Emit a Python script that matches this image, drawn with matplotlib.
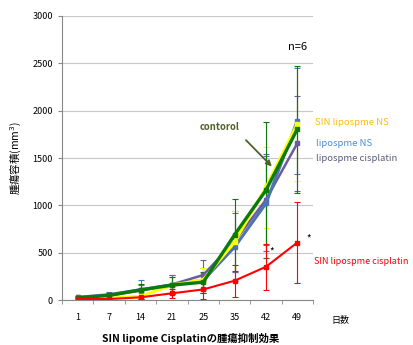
import numpy as np
import matplotlib
matplotlib.use("Agg")
import matplotlib.pyplot as plt

plt.rcParams['font.family'] = ['Noto Sans CJK JP', 'DejaVu Sans']

days = ['1', '7', '14', '21', '25', '35', '42', '49']

# mean tumour volume per group
control = [25, 50, 108, 158, 190, 690, 1160, 1805]
sin_ns = [15, 20, 40, 158, 215, 615, 1190, 1860]
lipo_ns = [30, 58, 110, 162, 210, 560, 1020, 1893]
lipo_cis = [28, 50, 100, 165, 265, 620, 1060, 1655]
sin_cis = [12, 12, 30, 72, 113, 205, 352, 608]

# error (sd)
control_err = [10, 20, 60, 90, 110, 380, 720, 670]
sin_ns_err = [8, 15, 40, 90, 120, 330, 430, 600]
lipo_ns_err = [12, 30, 100, 100, 130, 360, 500, 560]
lipo_cis_err = [10, 25, 60, 105, 160, 320, 480, 500]
sin_cis_err = [8, 10, 20, 50, 100, 170, 240, 430]

x = np.arange(len(days))

fig = plt.figure(figsize=(4.14, 3.45), dpi=100)
ax = fig.add_axes([0.15, 0.13, 0.606, 0.824])

series = [
    (lipo_cis, lipo_cis_err, '#6b5b9e', 1.8),
    (lipo_ns, lipo_ns_err, '#4f72b3', 2.2),
    (sin_ns, sin_ns_err, '#ffff00', 2.2),
    (control, control_err, '#0a7a0a', 2.4),
    (sin_cis, sin_cis_err, '#ff0000', 1.5),
]
for vals, err, col, lw in series:
    ax.errorbar(x, vals, yerr=err, color=col, lw=lw, marker='s', ms=2.5,
                elinewidth=0.8, capsize=2, capthick=0.8)

ax.set_xlim(-0.5, len(days) - 0.5)
ax.set_ylim(0, 3000)
ax.set_yticks(np.arange(0, 3001, 500))
ax.set_xticks(x)
ax.set_xticklabels(days)
ax.set_xticks(np.arange(-0.5, len(days), 1), minor=True)
ax.tick_params(axis='x', which='major', length=0, labelsize=6.5, pad=9)
ax.tick_params(axis='x', which='minor', length=3, color='#888888')
ax.tick_params(axis='y', labelsize=6.5, length=3, color='#888888')
ax.yaxis.grid(True, color='#c8c8c8', lw=0.8)
ax.set_axisbelow(True)
for s in ['top', 'right']:
    ax.spines[s].set_visible(False)
for s in ['left', 'bottom']:
    ax.spines[s].set_color('#888888')

ax.set_ylabel('腫瘍容積(mm$^3$)', fontsize=7.5, labelpad=6)

ax.text(7.0, 2640, 'n=6', fontsize=8, ha='center')
ax.text(7.55, 1880, 'SIN lipospme NS', color='#ffc000', fontsize=6.8, va='center')
ax.text(7.6, 1650, 'lipospme NS', color='#4a90d0', fontsize=6.8, va='center')
ax.text(7.6, 1490, 'lipospme cisplatin', color='#5a5a7a', fontsize=6.8, va='center')
ax.text(7.52, 410, 'SIN lipospme cisplatin', color='#ff0000', fontsize=6.5, va='center')
ax.text(3.9, 1830, 'contorol', fontsize=6.8, color='#4f6228',
        fontweight='bold', va='center')
ax.annotate('', xy=(6.25, 1390), xytext=(5.3, 1710),
            arrowprops=dict(arrowstyle='-|>', color='#4f6228', lw=1.3,
                            mutation_scale=8))
ax.text(6.1, 480, '*', fontsize=7)
ax.text(7.3, 620, '*', fontsize=7)

fig.text(0.8, 0.07, '日数', fontsize=6.5, va='center')
fig.text(0.46, 0.02, 'SIN lipome Cisplatinの腫瘍抑制効果', fontsize=7.5,
         fontweight='bold', ha='center', va='center')

fig.savefig('out.png', dpi=100)
